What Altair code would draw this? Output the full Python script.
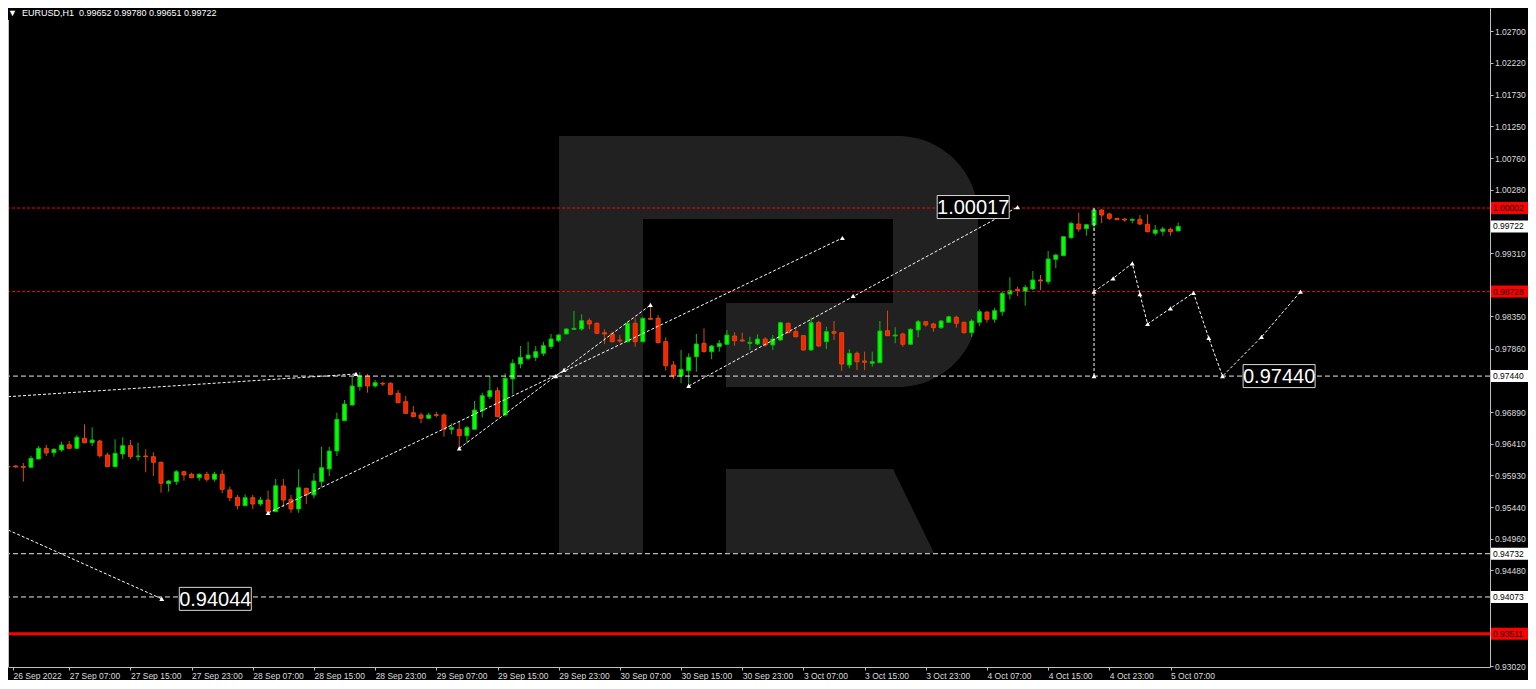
import altair as alt
import pandas as pd

# ---------------- data (EURUSD H1, bar 0 = 26 Sep 2022 23:00) ----------------
opens = [0.96062,0.96069,0.96062,0.96050,0.96176,0.96339,0.96272,0.96313,0.96394,0.96339,
         0.96492,0.96424,0.96450,0.96237,0.96059,0.96252,0.96379,0.96211,0.96222,0.96211,
         0.96126,0.95800,0.95830,0.95982,0.95943,0.95891,0.95943,0.95867,0.95943,0.95704,
         0.95592,0.95464,0.95586,0.95490,0.95551,0.95373,0.95765,0.95562,0.95414,0.95729,
         0.95628,0.95830,0.96024,0.96298,0.96760,0.96999,0.97278,0.97441,0.97289,0.97330,
         0.97330,0.97178,0.97050,0.96882,0.96847,0.96797,0.96851,0.96847,0.96629,0.96629,
         0.96531,0.96629,0.96912,0.97126,0.97217,0.96847,0.97396,0.97624,0.97711,0.97726,
         0.97787,0.97888,0.97979,0.98082,0.98153,0.98158,0.98284,0.98245,0.98101,0.98082,
         0.97990,0.97964,0.98245,0.97964,0.98321,0.98321,0.97964,0.97609,0.97441,0.97522,
         0.97735,0.97940,0.97812,0.97888,0.97925,0.98051,0.97990,0.97940,0.97929,0.98005,
         0.97914,0.97990,0.98245,0.98117,0.98056,0.97838,0.98254,0.97964,0.98117,0.98101,
         0.97609,0.97787,0.97670,0.97635,0.97644,0.98132,0.98051,0.98082,0.97925,0.98143,
         0.98269,0.98234,0.98178,0.98260,0.98336,0.98260,0.98101,0.98260,0.98417,0.98306,
         0.98421,0.98691,0.98763,0.98732,0.98768,0.98905,0.98879,0.99220,0.99275,0.99550,
         0.99758,0.99687,0.99743,0.99972,0.99911,0.99845,0.99835,0.99815,0.99830,0.99754,
         0.99617,0.99647,0.99677,0.99652]
highs = [0.96191,0.96085,0.96115,0.96226,0.96374,0.96390,0.96339,0.96440,0.96451,0.96542,
         0.96705,0.96659,0.96466,0.96272,0.96476,0.96507,0.96466,0.96424,0.96324,0.96278,
         0.96135,0.95856,0.96008,0.95993,0.95967,0.95958,0.95982,0.95982,0.96008,0.95754,
         0.95628,0.95638,0.95628,0.95601,0.95693,0.95871,0.95871,0.95628,0.96019,0.95738,
         0.95958,0.96364,0.96364,0.96882,0.97075,0.97431,0.97498,0.97472,0.97380,0.97355,
         0.97345,0.97228,0.97137,0.96984,0.96882,0.96882,0.96897,0.96873,0.96720,0.96745,
         0.96679,0.97060,0.97187,0.97441,0.97269,0.97482,0.97696,0.97899,0.97964,0.97899,
         0.97964,0.98082,0.98082,0.98168,0.98432,0.98382,0.98321,0.98254,0.98153,0.98117,
         0.98066,0.98269,0.98321,0.98336,0.98524,0.98371,0.98031,0.97670,0.97838,0.97787,
         0.98082,0.98168,0.97914,0.97990,0.98143,0.98107,0.98101,0.98040,0.98077,0.98031,
         0.98066,0.98269,0.98254,0.98168,0.98066,0.98330,0.98280,0.98193,0.98280,0.98112,
         0.97848,0.97812,0.97812,0.97812,0.98280,0.98437,0.98184,0.98101,0.98168,0.98295,
         0.98280,0.98254,0.98295,0.98361,0.98361,0.98269,0.98306,0.98458,0.98421,0.98482,
         0.98726,0.98946,0.98803,0.98828,0.99042,0.98981,0.99347,0.99296,0.99565,0.99793,
         0.99931,0.99748,1.00002,0.99987,0.99931,0.99850,0.99845,0.99845,0.99895,0.99906,
         0.99743,0.99717,0.99702,0.99780]
lows = [0.96046,0.96046,0.95830,0.96043,0.96172,0.96222,0.96211,0.96287,0.96324,0.96324,
        0.96415,0.96374,0.96196,0.96050,0.96050,0.96176,0.96176,0.96150,0.95973,0.95917,
        0.95662,0.95678,0.95780,0.95845,0.95882,0.95845,0.95830,0.95830,0.95653,0.95536,
        0.95409,0.95460,0.95414,0.95460,0.95353,0.95373,0.95440,0.95357,0.95357,0.95490,
        0.95577,0.95745,0.95917,0.96222,0.96760,0.96989,0.97217,0.97187,0.97263,0.97289,
        0.97152,0.97025,0.96862,0.96812,0.96720,0.96786,0.96812,0.96516,0.96553,0.96339,
        0.96415,0.96629,0.96812,0.97091,0.96812,0.96821,0.97162,0.97559,0.97685,0.97670,
        0.97746,0.97853,0.97955,0.98077,0.98143,0.98132,0.98153,0.98082,0.97929,0.97955,
        0.97949,0.97955,0.97888,0.97955,0.98295,0.97940,0.97522,0.97396,0.97330,0.97289,
        0.97507,0.97803,0.97696,0.97812,0.97914,0.97903,0.97964,0.97838,0.97914,0.97888,
        0.97838,0.97979,0.98092,0.98031,0.97827,0.97827,0.97888,0.97853,0.97990,0.97518,
        0.97559,0.97533,0.97533,0.97583,0.97644,0.98051,0.97940,0.97888,0.97914,0.98031,
        0.98193,0.98117,0.98158,0.98254,0.98178,0.98092,0.98040,0.98204,0.98254,0.98254,
        0.98360,0.98611,0.98661,0.98513,0.98752,0.98752,0.98839,0.99083,0.99275,0.99530,
        0.99641,0.99580,0.99656,0.99769,0.99819,0.99819,0.99793,0.99769,0.99743,0.99632,
        0.99580,0.99580,0.99580,0.99651]
closes = [0.96054,0.96054,0.96050,0.96187,0.96339,0.96268,0.96324,0.96390,0.96339,0.96507,
          0.96424,0.96466,0.96226,0.96059,0.96263,0.96379,0.96211,0.96222,0.96211,0.96126,
          0.95806,0.95841,0.95982,0.95932,0.95891,0.95943,0.95867,0.95947,0.95714,0.95586,
          0.95464,0.95586,0.95490,0.95551,0.95373,0.95769,0.95551,0.95414,0.95738,0.95628,
          0.95841,0.96043,0.96298,0.96781,0.97014,0.97289,0.97441,0.97289,0.97339,0.97319,
          0.97162,0.97034,0.96873,0.96821,0.96797,0.96847,0.96842,0.96629,0.96653,0.96531,
          0.96653,0.96923,0.97141,0.97217,0.96821,0.97406,0.97635,0.97726,0.97761,0.97812,
          0.97903,0.98005,0.98066,0.98158,0.98168,0.98284,0.98234,0.98092,0.98082,0.97964,
          0.97975,0.98245,0.97964,0.98321,0.98306,0.97949,0.97598,0.97441,0.97543,0.97726,
          0.97929,0.97812,0.97899,0.97940,0.98066,0.97979,0.97975,0.97955,0.98005,0.97914,
          0.98005,0.98254,0.98101,0.98040,0.97838,0.98254,0.97899,0.98117,0.98092,0.97624,
          0.97787,0.97659,0.97650,0.97659,0.98127,0.98056,0.98066,0.97925,0.98153,0.98269,
          0.98219,0.98178,0.98280,0.98345,0.98245,0.98101,0.98280,0.98421,0.98306,0.98437,
          0.98702,0.98742,0.98742,0.98793,0.98905,0.98890,0.99225,0.99286,0.99565,0.99769,
          0.99682,0.99748,0.99972,0.99895,0.99845,0.99824,0.99819,0.99830,0.99758,0.99641,
          0.99667,0.99682,0.99641,0.99722]

symbol = "EURUSD,H1"

xtick_labels = ["26 Sep 2022", "27 Sep 07:00", "27 Sep 15:00", "27 Sep 23:00", "28 Sep 07:00",
                "28 Sep 15:00", "28 Sep 23:00", "29 Sep 07:00", "29 Sep 15:00", "29 Sep 23:00",
                "30 Sep 07:00", "30 Sep 15:00", "30 Sep 23:00", "3 Oct 07:00", "3 Oct 15:00",
                "3 Oct 23:00", "4 Oct 07:00", "4 Oct 15:00", "4 Oct 23:00", "5 Oct 07:00"]
# price scale labels that are not hidden behind the price tags
ytick_values = [1.02700, 1.02220, 1.01730, 1.01250, 1.00760, 1.00280, 0.99310,
                0.98350, 0.97860, 0.96890, 0.96410, 0.95930, 0.95440,
                0.94960, 0.94480, 0.93020]

levels_red_dotted = [1.00002, 0.98728]
levels_white_dashed = [0.97440, 0.94732, 0.94073]
levels_red_solid = [0.93511]

tag_red_prices = [1.00002, 0.98728, 0.93511]
tag_white_prices = [0.99722, 0.97440, 0.94732, 0.94073]

line_ids = ["L1", "L1", "L2", "L2", "A", "A", "B", "B", "C", "C", "V", "V",
            "F", "F", "F", "F", "F", "F", "F", "F", "F", "F", "F"]
line_bars = [0, 45.5, 0, 20.1, 34, 109.1, 59, 84, 89, 132, 142, 142,
             142, 144.5, 147, 148, 149, 152, 155, 157, 158.8, 163.9, 169]
line_prices = [0.97126, 0.97472, 0.95094, 0.94044, 0.95353, 0.99545, 0.96339, 0.98524,
               0.97289, 1.00017, 1.00002, 0.97440,
               0.98728, 0.98931, 0.99159, 0.98691, 0.98234, 0.98473, 0.98710, 0.98021,
               0.97440, 0.98036, 0.98728]

marker_bars = [45.5, 20.1, 34, 71.6, 109.1, 59, 72.7, 84, 89, 110.5, 132, 142,
               142, 144.5, 147, 148, 149, 152, 155, 157, 158.8, 163.9, 169]
marker_prices = [0.97472, 0.94044, 0.95353, 0.97441, 0.99545, 0.96339, 0.97533, 0.98524,
                 0.97289, 0.98661, 1.00017, 0.97440,
                 0.98728, 0.98931, 0.99159, 0.98691, 0.98234, 0.98473, 0.98710, 0.98021,
                 0.97440, 0.98036, 0.98728]

box_texts = ["1.00017", "0.97440", "0.94044"]
box_bars = [126.2, 166.2, 27.1]
box_prices = [1.00017, 0.97440, 0.94044]

# ---------------- styling ----------------
W, H = 1482, 659
FONT = "Liberation Sans"
TXT = "#dcdcdc"
AXC = "#c0c0c0"
UP_BODY, UP_EDGE = "#00ff00", "#12b812"
DN_BODY, DN_EDGE = "#ff2000", "#d84a10"
LOGO = "#212121"

xs = alt.Scale(domain=[0.649, 193.12], zero=False, nice=False)
ys = alt.Scale(domain=[0.930053, 1.030511], zero=False, nice=False)

label_js = "[" + ",".join("'" + s + "'" for s in xtick_labels) + "][round(datum.value / 8)]"
x_axis = alt.Axis(values=[0.65] + [8 * i for i in range(1, len(xtick_labels))],
                  labelExpr=label_js, title=None, grid=False, orient="bottom",
                  domainColor=AXC, tickColor=AXC, tickSize=3, labelColor=TXT,
                  labelFont=FONT, labelFontSize=8.5, labelAlign="left", labelBaseline="top",
                  labelPadding=1, labelOverlap=False, labelFlush=False, labelBound=False)
y_axis = alt.Axis(values=ytick_values, format=".5f", title=None, grid=False, orient="right",
                  domainColor=AXC, tickColor=AXC, tickSize=3, labelColor=TXT,
                  labelFont=FONT, labelFontSize=8.5, labelPadding=1.5, labelOverlap=False,
                  labelFlush=False, labelBound=False)


def X(field):
    return alt.X(field, scale=xs, axis=x_axis)


def Y(field):
    return alt.Y(field, scale=ys, axis=y_axis)


df = pd.DataFrame({"bar": list(range(len(opens))), "open": opens, "high": highs,
                   "low": lows, "close": closes})
df["dir"] = ["up" if c >= o else "down" for o, c in zip(opens, closes)]

one = alt.Data(values=[{"k": 1}])

# ---------------- watermark (decoration) ----------------
def block(x1, x2, y1, y2, color, **kw):
    return alt.Chart(one).mark_rect(color=color, **kw).encode(
        x=alt.value(x1), x2=alt.value(x2), y=alt.value(y1), y2=alt.value(y2))

wm_stem = block(551, 635, 128, 545, LOGO)
wm_bowl = block(634, 970, 128, 379, LOGO, cornerRadiusTopRight=80, cornerRadiusBottomRight=80)
wm_hole = block(635, 885, 211, 295, "#000000")
wm_notch = block(635, 718, 295, 379, "#000000")
wm_leg = alt.Chart(one).mark_point(
    shape="M-1,-0.4038L0.6058,-0.4038L1,0.4038L-1,0.4038Z", filled=True, size=43264,
    color=LOGO, opacity=1, strokeWidth=0).encode(x=alt.value(822), y=alt.value(503))

# ---------------- candles ----------------
wicks = alt.Chart(df).mark_rule(strokeWidth=1).encode(
    x=X("bar:Q"), y=Y("low:Q"), y2="high:Q",
    color=alt.Color("dir:N", scale=alt.Scale(domain=["up", "down"], range=[UP_EDGE, DN_EDGE]),
                    legend=None),
)
bodies = alt.Chart(df).mark_bar(size=4, strokeWidth=1).encode(
    x=X("bar:Q"), y=Y("open:Q"), y2="close:Q",
    fill=alt.Fill("dir:N", scale=alt.Scale(domain=["up", "down"], range=[UP_BODY, DN_BODY]),
                  legend=None),
    stroke=alt.Stroke("dir:N", scale=alt.Scale(domain=["up", "down"], range=[UP_EDGE, DN_EDGE]),
                      legend=None),
)

# ---------------- levels ----------------
def hlevels(vals, color, width, dash=None):
    kw = dict(color=color, strokeWidth=width)
    if dash:
        kw["strokeDash"] = dash
    return alt.Chart(pd.DataFrame({"p": vals})).mark_rule(**kw).encode(y=Y("p:Q"))

lv_red = hlevels(levels_red_dotted, "#ff0000", 1, [3, 2])
lv_white = hlevels(levels_white_dashed, "#e8e8e8", 1, [5, 3])
lv_solid = hlevels(levels_red_solid, "#ff0000", 3)

# ---------------- trend / forecast lines ----------------
ldf = pd.DataFrame({"id": line_ids, "bar": line_bars, "price": line_prices})
lines = alt.Chart(ldf).mark_line(color="#ffffff", strokeWidth=1, strokeDash=[3, 2]).encode(
    x=X("bar:Q"), y=Y("price:Q"), detail="id:N")
mdf = pd.DataFrame({"bar": marker_bars, "price": marker_prices})
markers = alt.Chart(mdf).mark_point(shape="triangle-up", filled=True, size=24,
                                    color="#ffffff", opacity=1).encode(
    x=X("bar:Q"), y=Y("price:Q"))

# ---------------- boxed price labels ----------------
bdf = pd.DataFrame({"t": box_texts, "bar": box_bars, "price": box_prices})
boxes = alt.Chart(bdf).mark_rect(width=72, height=23, fill="#000000", stroke="#d8d8d8",
                                 strokeWidth=1).encode(x=X("bar:Q"), y=Y("price:Q"))
box_txt = alt.Chart(bdf).mark_text(font=FONT, fontSize=20, color="#ffffff", align="center",
                                   baseline="middle", dy=1).encode(
    x=X("bar:Q"), y=Y("price:Q"), text="t:N")

# ---------------- price tags on the axis ----------------
def tag_layers(prices, bg):
    tdf = pd.DataFrame({"price": prices, "t": [f"{p:.5f}" for p in prices]})
    box = alt.Chart(tdf).mark_rect(height=12, color=bg).encode(
        x=alt.value(W + 1), x2=alt.value(W + 38), y=Y("price:Q"))
    txt = alt.Chart(tdf).mark_text(font=FONT, fontSize=8.5, color="#000000", align="left",
                                   baseline="middle").encode(
        x=alt.value(W + 3), y=Y("price:Q"), text="t:N")
    return box, txt

tag_red_box, tag_red_txt = tag_layers(tag_red_prices, "#ff0000")
tag_white_box, tag_white_txt = tag_layers(tag_white_prices, "#ffffff")

# ---------------- header & frame ----------------
nb = "\u00a0"
header_txt = (f"\u25bc{nb}{nb}{symbol}{nb}{nb}{opens[-1]:.5f} {highs[-1]:.5f} "
              f"{lows[-1]:.5f} {closes[-1]:.5f}")
header = alt.Chart(alt.Data(values=[{"t": header_txt}])).mark_text(
    font=FONT, fontSize=9, color="#ffffff", align="left", baseline="middle").encode(
    x=alt.value(0), y=alt.value(5), text="t:N")
left_border = alt.Chart(one).mark_rule(color=AXC, strokeWidth=1).encode(
    x=alt.value(0.5), y=alt.value(12), y2=alt.value(H))

chart = alt.layer(
    wm_stem, wm_bowl, wm_hole, wm_notch, wm_leg,
    wicks, bodies,
    lv_red, lv_white, lv_solid, lines, markers,
    boxes, box_txt, tag_red_box, tag_white_box, tag_red_txt, tag_white_txt,
    header, left_border,
).properties(
    width=W, height=H,
    autosize=alt.AutoSizeParams(type="none"),
    padding={"left": 0, "top": 0, "right": 38, "bottom": 13},
    background="#000000",
    usermeta={"embedOptions": {"defaultStyle": "body{background:#000000;} svg{display:block;}"}},
).configure_view(stroke=None)

chart.save("out.html", embed_options={"renderer": "svg", "actions": False})
